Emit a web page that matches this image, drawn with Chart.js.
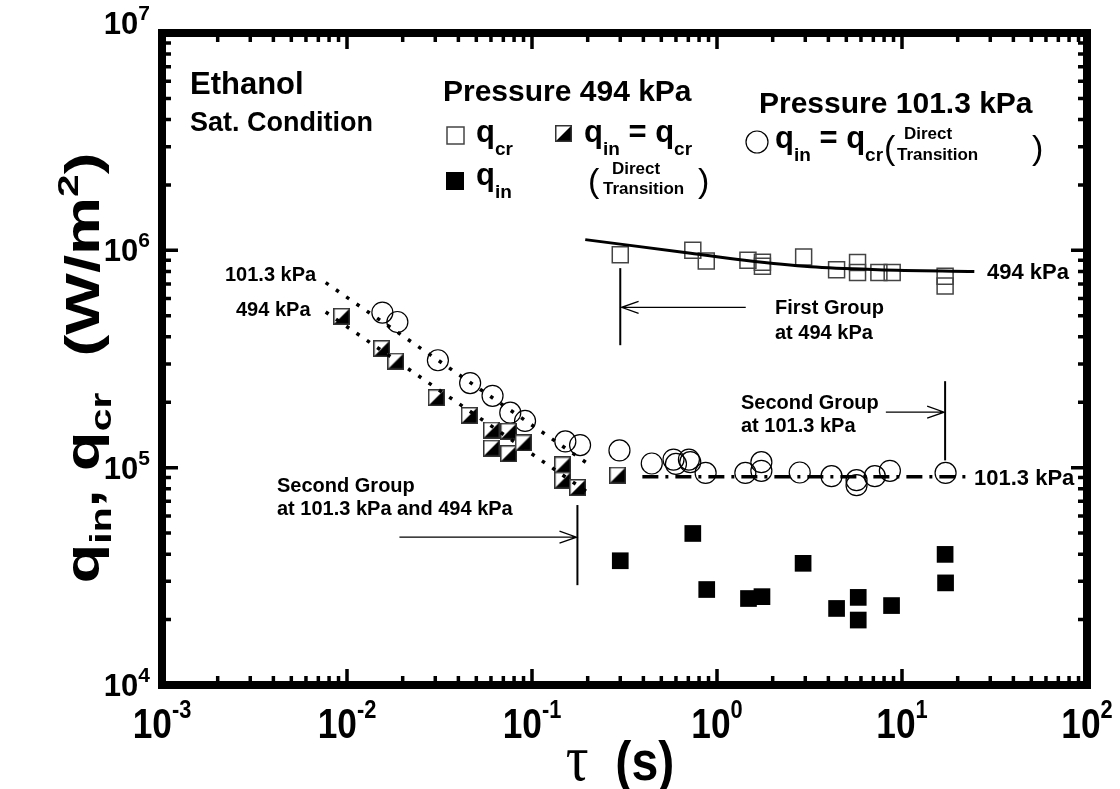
<!DOCTYPE html>
<html>
<head>
<meta charset="utf-8">
<title>Ethanol q_in, q_cr vs tau</title>
<script src="https://cdn.jsdelivr.net/npm/chart.js"></script>
<style>
  html, body { margin: 0; padding: 0; background: #fff; }
  #chart { display: block; }
</style>
</head>
<body>
<canvas id="chart" width="1120" height="789"></canvas>
<script>
// ---- data (tau in s, heat flux in W/m2) ----

// 494 kPa, q_cr (open squares)
const qcrTau  = [0.30, 0.74, 0.875, 1.47, 1.76, 1.76, 2.94, 4.43, 5.75, 5.75, 7.5, 8.85, 17.1, 17.1];
const qcrFlux = [9.55e5, 1.0e6, 8.93e5, 9.0e5, 8.81e5, 8.44e5, 9.31e5, 8.15e5, 8.78e5, 7.9e5, 7.9e5, 7.9e5, 7.6e5, 6.85e5];

// 494 kPa, q_in (filled squares)
const qinTau  = [0.30, 0.74, 0.88, 1.48, 1.75, 2.92, 4.43, 5.8, 5.8, 8.78, 17.1, 17.2];
const qinFlux = [3.73e4, 4.98e4, 2.75e4, 2.5e4, 2.55e4, 3.63e4, 2.25e4, 2.53e4, 1.99e4, 2.32e4, 3.99e4, 2.95e4];

// 494 kPa, q_in = q_cr direct transition (half filled squares)
const dt494Tau  = [0.00936, 0.0154, 0.01835, 0.0304, 0.0458, 0.0604, 0.0747, 0.0604, 0.0747, 0.0897, 0.1464, 0.1464, 0.1765, 0.2907];
const dt494Flux = [4.97e5, 3.53e5, 3.09e5, 2.10e5, 1.74e5, 1.49e5, 1.47e5, 1.23e5, 1.16e5, 1.30e5, 1.03e5, 8.76e4, 8.11e4, 9.24e4];

// 101.3 kPa, q_in = q_cr direct transition (circles)
const dt101Tau  = [0.01553, 0.01872, 0.031, 0.0463, 0.0612, 0.0763, 0.0917, 0.1514, 0.1819, 0.297,
                   0.444, 0.582, 0.60, 0.705, 0.717, 0.868, 1.423, 1.737, 1.737, 2.80, 4.16, 5.68, 5.68, 7.13, 8.60, 17.2];
const dt101Flux = [5.17e5, 4.68e5, 3.12e5, 2.45e5, 2.14e5, 1.79e5, 1.64e5, 1.32e5, 1.27e5, 1.20e5,
                   1.045e5, 1.09e5, 1.04e5, 1.09e5, 1.06e5, 9.46e4, 9.46e4, 1.06e5, 9.67e4, 9.5e4, 9.14e4, 8.76e4, 8.31e4, 9.14e4, 9.67e4, 9.46e4];

// fitted / guide curves
const fit494Tau  = [0.194, 0.72, 1.41, 3.2, 7.4, 24.6];
const fit494Flux = [1.12e6, 9.7e5, 9.0e5, 8.4e5, 8.15e5, 8.0e5];
const fit101Tau  = [0.395, 22.4];
const fit101Flux = [9.09e4, 9.09e4];
const ext101Tau  = [0.00767, 0.196];
const ext101Flux = [7.10e5, 1.057e5];
const ext494Tau  = [0.00767, 0.1993];
const ext494Flux = [5.20e5, 7.72e4];

// axis
const xMin = 1e-3, xMax = 1e2, yMin = 1e4, yMax = 1e7;
const xDecades = [-3, -2, -1, 0, 1, 2];
const yDecades = [4, 5, 6, 7];

const pts = (xs, ys) => xs.map((x, i) => ({x: x, y: ys[i]}));

const SANS = '"Liberation Sans", Arial, sans-serif';

// half filled square marker
function halfSquare(size) {
  const c = document.createElement('canvas');
  c.width = size; c.height = size;
  const g = c.getContext('2d');
  g.fillStyle = '#fff';
  g.fillRect(0, 0, size, size);
  g.fillStyle = '#000';
  g.beginPath();
  g.moveTo(size, 0); g.lineTo(size, size); g.lineTo(0, size); g.closePath();
  g.fill();
  g.strokeStyle = '#333';
  g.lineWidth = 1.5;
  g.strokeRect(0.75, 0.75, size - 1.5, size - 1.5);
  return c;
}
const halfMarker = halfSquare(17);

// text with sub/superscripts: parts = [[text, font, dy], ...]
function rich(ctx, x, y, parts, align) {
  let w = 0;
  parts.forEach(p => { ctx.font = p[1]; w += ctx.measureText(p[0]).width; });
  let cx = align === 'center' ? x - w / 2 : (align === 'right' ? x - w : x);
  ctx.textAlign = 'left';
  parts.forEach(p => {
    ctx.font = p[1];
    ctx.fillText(p[0], cx, y + (p[2] || 0));
    cx += ctx.measureText(p[0]).width;
  });
  return w;
}

function arrow(ctx, x1, y1, x2, y2) {
  ctx.beginPath();
  ctx.moveTo(x1, y1); ctx.lineTo(x2, y2);
  const dir = Math.sign(x2 - x1);
  ctx.moveTo(x2 - dir * 17, y2 - 6); ctx.lineTo(x2, y2); ctx.lineTo(x2 - dir * 17, y2 + 6);
  ctx.stroke();
}

const decor = {
  id: 'decor',
  afterDraw(chart) {
    const ctx = chart.ctx;
    const xs = chart.scales.x, ys = chart.scales.y;
    const a = chart.chartArea;
    ctx.save();
    ctx.fillStyle = '#000';
    ctx.strokeStyle = '#000';

    // inward ticks on all four sides
    ctx.lineWidth = 3.5;
    ctx.lineCap = 'butt';
    xDecades.forEach(d => {
      for (let m = 1; m <= 9; m++) {
        const v = m * Math.pow(10, d);
        if (v < xMin * 0.999 || v > xMax * 1.001) continue;
        const px = xs.getPixelForValue(v);
        const len = m === 1 ? 16 : 9;
        ctx.beginPath();
        ctx.moveTo(px, a.bottom); ctx.lineTo(px, a.bottom - len);
        ctx.moveTo(px, a.top); ctx.lineTo(px, a.top + len);
        ctx.stroke();
      }
    });
    yDecades.forEach(d => {
      for (let m = 1; m <= 9; m++) {
        const v = m * Math.pow(10, d);
        if (v < yMin * 0.999 || v > yMax * 1.001) continue;
        const py = ys.getPixelForValue(v);
        const len = m === 1 ? 16 : 9;
        ctx.beginPath();
        ctx.moveTo(a.left, py); ctx.lineTo(a.left + len, py);
        ctx.moveTo(a.right, py); ctx.lineTo(a.right - len, py);
        ctx.stroke();
      }
    });

    // frame
    ctx.lineWidth = 8;
    ctx.strokeRect(a.left, a.top, a.right - a.left, a.bottom - a.top);

    // x tick labels (tall, narrow)
    ctx.textBaseline = 'alphabetic';
    xDecades.forEach(d => {
      const px = xs.getPixelForValue(Math.pow(10, d));
      ctx.save();
      ctx.translate(px, 0);
      ctx.scale(0.84, 1);
      rich(ctx, 0, 738, [['10', 'bold 42px ' + SANS], [String(d), 'bold 26px ' + SANS, -20]], 'center');
      ctx.restore();
    });
    // y tick labels
    yDecades.forEach(d => {
      const py = ys.getPixelForValue(Math.pow(10, d));
      const off = d === 7 ? -10 : 0;
      rich(ctx, 150, py + 11 + off, [['10', 'bold 31px ' + SANS], [String(d), 'bold 21px ' + SANS, -14]], 'right');
    });

    // x axis title
    ctx.save();
    ctx.translate(620, 0);
    ctx.scale(0.86, 1);
    rich(ctx, 0, 780, [['\u03c4', '66px "Liberation Serif", serif'], ['  (s)', 'bold 56px ' + SANS]], 'center');
    ctx.restore();

    // y axis title (stretched along its length)
    ctx.save();
    ctx.translate(99, 368);
    ctx.rotate(-Math.PI / 2);
    ctx.scale(1.36, 1);
    const big = 'bold 48px ' + SANS, sub = 'bold 30px ' + SANS;
    rich(ctx, 0, 0, [['q', big], ['in', sub, 12], [', ', big], ['q', big], ['cr', sub, 12],
                     ['  (W/m', big], ['2', sub, -21], [')', big]], 'center');
    ctx.restore();

    // upper-left notes
    ctx.font = 'bold 31px ' + SANS;
    ctx.fillText('Ethanol', 190, 94);
    ctx.font = 'bold 27px ' + SANS;
    ctx.fillText('Sat. Condition', 190, 131);

    // legend: 494 kPa
    ctx.font = 'bold 30px ' + SANS;
    ctx.fillText('Pressure 494 kPa', 443, 101);
    const qf = 'bold 31px ' + SANS, sf = 'bold 19px ' + SANS;
    ctx.lineWidth = 1.5;
    ctx.strokeStyle = '#444';
    ctx.strokeRect(447, 127, 17, 17);
    rich(ctx, 476, 142, [['q', qf], ['cr', sf, 13]]);
    ctx.fillRect(446, 172, 18, 18);
    rich(ctx, 476, 185, [['q', qf], ['in', sf, 13]]);

    ctx.drawImage(halfMarker, 555, 125);
    rich(ctx, 584, 142, [['q', qf], ['in', sf, 13], [' = q', qf], ['cr', sf, 13]]);
    ctx.font = '34px ' + SANS;
    ctx.fillText('(', 588, 192);
    ctx.fillText(')', 698, 192);
    ctx.font = 'bold 17px ' + SANS;
    ctx.fillText('Direct', 612, 174);
    ctx.fillText('Transition', 603, 194);

    // legend: 101.3 kPa
    ctx.font = 'bold 30px ' + SANS;
    ctx.fillText('Pressure 101.3 kPa', 759, 113);
    ctx.strokeStyle = '#000';
    ctx.lineWidth = 1.2;
    ctx.beginPath();
    ctx.arc(757, 142, 11, 0, Math.PI * 2);
    ctx.stroke();
    rich(ctx, 775, 148, [['q', qf], ['in', sf, 13], [' = q', qf], ['cr', sf, 13]]);
    ctx.font = '34px ' + SANS;
    ctx.fillText('(', 884, 159);
    ctx.fillText(')', 1032, 159);
    ctx.font = 'bold 17px ' + SANS;
    ctx.fillText('Direct', 904, 139);
    ctx.fillText('Transition', 897, 160);

    // curve labels
    ctx.font = 'bold 20px ' + SANS;
    ctx.fillText('101.3 kPa', 225, 281);
    ctx.fillText('494 kPa', 236, 316);
    ctx.font = 'bold 22px ' + SANS;
    ctx.fillText('494 kPa', 987, 279);
    ctx.fillText('101.3 kPa', 974, 485);

    // group annotations
    ctx.font = 'bold 20px ' + SANS;
    ctx.fillText('First Group', 775, 314);
    ctx.fillText('at 494 kPa', 775, 339);
    ctx.fillText('Second Group', 741, 409);
    ctx.fillText('at 101.3 kPa', 741, 432);
    ctx.fillText('Second Group', 277, 492);
    ctx.fillText('at 101.3 kPa and 494 kPa', 277, 515);

    ctx.strokeStyle = '#000';
    const X = v => xs.getPixelForValue(v), Y = v => ys.getPixelForValue(v);
    // first group at 494 kPa
    ctx.lineWidth = 2;
    ctx.beginPath(); ctx.moveTo(X(0.30), Y(8.28e5)); ctx.lineTo(X(0.30), Y(3.66e5)); ctx.stroke();
    ctx.lineWidth = 1.3;
    arrow(ctx, X(1.43), Y(5.47e5), X(0.305), Y(5.47e5));
    // second group at 101.3 kPa
    ctx.lineWidth = 2;
    ctx.beginPath(); ctx.moveTo(X(17.1), Y(2.5e5)); ctx.lineTo(X(17.1), Y(1.08e5)); ctx.stroke();
    ctx.lineWidth = 1.3;
    arrow(ctx, X(8.18), Y(1.8e5), X(16.9), Y(1.8e5));
    // second group at both pressures
    ctx.lineWidth = 2;
    ctx.beginPath(); ctx.moveTo(X(0.176), Y(6.73e4)); ctx.lineTo(X(0.176), Y(2.88e4)); ctx.stroke();
    ctx.lineWidth = 1.3;
    arrow(ctx, X(0.0192), Y(4.79e4), X(0.174), Y(4.79e4));

    ctx.restore();
  }
};

new Chart(document.getElementById('chart').getContext('2d'), {
  type: 'scatter',
  data: {
    datasets: [
      { label: 'fit 494 kPa', data: pts(fit494Tau, fit494Flux), showLine: true, borderColor: '#000',
        borderWidth: 3, pointRadius: 0, cubicInterpolationMode: 'monotone', fill: false },
      { label: 'fit 101.3 kPa', data: pts(fit101Tau, fit101Flux), showLine: true, borderColor: '#000',
        borderWidth: 3.5, borderDash: [16, 7, 3, 7], pointRadius: 0, fill: false },
      { label: 'ext 101.3 kPa', data: pts(ext101Tau, ext101Flux), showLine: true, borderColor: '#000',
        borderWidth: 3.5, borderDash: [3.5, 9], pointRadius: 0, fill: false },
      { label: 'ext 494 kPa', data: pts(ext494Tau, ext494Flux), showLine: true, borderColor: '#000',
        borderWidth: 3.5, borderDash: [3.5, 9], pointRadius: 0, fill: false },
      { label: 'q_cr 494 kPa', data: pts(qcrTau, qcrFlux), pointStyle: 'rect', pointRadius: 11.3,
        pointBorderWidth: 1.5, pointBorderColor: '#444', pointBackgroundColor: 'rgba(0,0,0,0)' },
      { label: 'q_in 494 kPa', data: pts(qinTau, qinFlux), pointStyle: 'rect', pointRadius: 11.8,
        pointBorderWidth: 0, pointBackgroundColor: '#000' },
      { label: 'q_in = q_cr 494 kPa', data: pts(dt494Tau, dt494Flux), pointStyle: halfMarker, pointRadius: 9 },
      { label: 'q_in = q_cr 101.3 kPa', data: pts(dt101Tau, dt101Flux), pointStyle: 'circle', pointRadius: 10.5,
        pointBorderWidth: 1.2, pointBorderColor: '#000', pointBackgroundColor: 'rgba(0,0,0,0)' }
    ]
  },
  options: {
    responsive: false,
    animation: false,
    layout: { padding: { left: 162, top: 33, right: 33, bottom: 104 } },
    plugins: { legend: { display: false }, tooltip: { enabled: false } },
    scales: {
      x: { type: 'logarithmic', min: xMin, max: xMax, display: false },
      y: { type: 'logarithmic', min: yMin, max: yMax, display: false }
    }
  },
  plugins: [decor]
});
</script>
</body>
</html>
